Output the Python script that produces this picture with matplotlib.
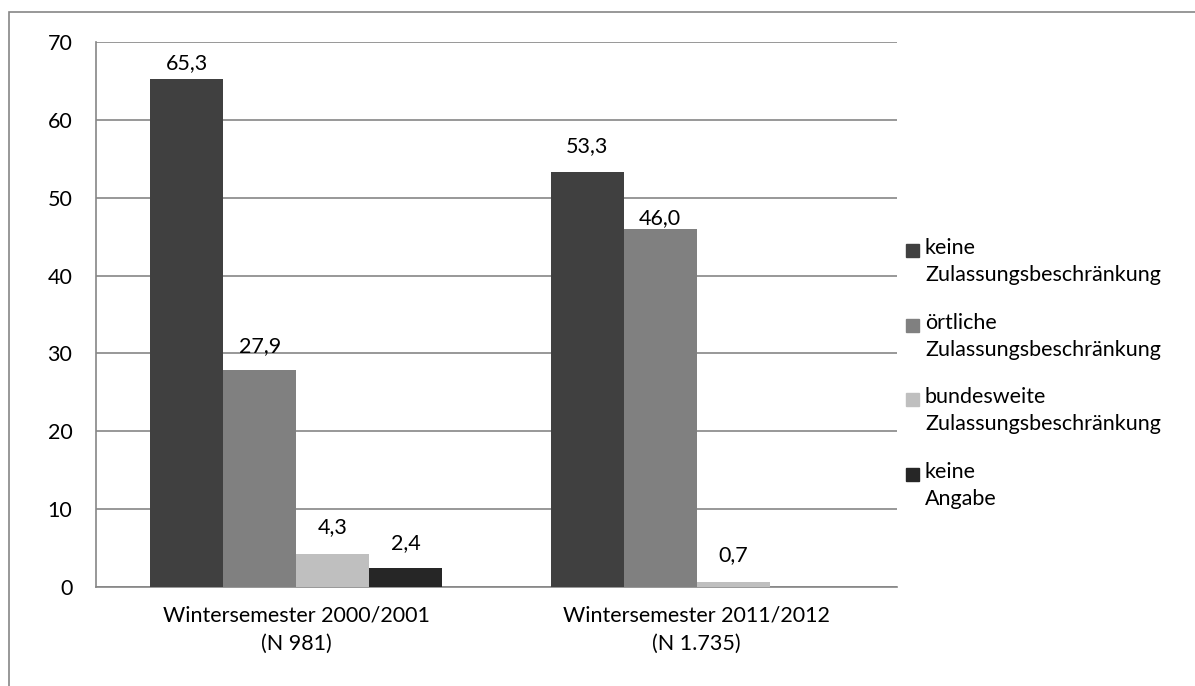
import numpy as np
import matplotlib.pyplot as plt
from matplotlib.patches import Rectangle

plt.rcParams['font.family'] = ['Lato', 'DejaVu Sans']

# Daten
semester = ["Wintersemester 2000/2001\n(N 981)", "Wintersemester 2011/2012\n(N 1.735)"]
serien = ["keine\nZulassungsbeschränkung", "örtliche\nZulassungsbeschränkung",
          "bundesweite\nZulassungsbeschränkung", "keine\nAngabe"]
keine_zb = [65.3, 53.3]
oertlich = [27.9, 46.0]
bundesweit = [4.3, 0.7]
keine_angabe = [2.4, np.nan]
farben = ["#404040", "#808080", "#bfbfbf", "#262626"]
yticks = [0, 10, 20, 30, 40, 50, 60, 70]

werte = [keine_zb, oertlich, bundesweit, keine_angabe]
# Abstand der Beschriftung über dem Balken (Pixel), wie im Original
abstand = [[15, 26], [24, 11], [26, 26], [25, 25]]
fs = 15.5
W, H = 1195, 686

fig = plt.figure(figsize=(W / 100, H / 100), dpi=100)
ax = fig.add_axes([96/W, 1 - 587/H, (897-96)/W, (587-42)/H])
px = 70 / (587 - 42)  # Dateneinheiten pro Pixel

# Rahmen um das ganze Bild
fig.patches.append(Rectangle((9/W, -0.01), 1.2, 1 - 12/H + 0.01, transform=fig.transFigure,
                             fill=False, edgecolor="#868686", linewidth=1.2))

x = np.arange(len(semester))
breite = 0.182
for i, (w, f) in enumerate(zip(werte, farben)):
    pos = x + (i - 1.5) * breite
    ax.bar(pos, w, width=breite, color=f, zorder=3)
    for p, v, a in zip(pos, w, abstand[i]):
        if not np.isnan(v):
            ax.text(p, v + a * px, f"{v:.1f}".replace('.', ','), ha='center', va='center', fontsize=fs)

ax.set_xlim(-0.5, 1.5)
ax.set_ylim(0, 70)
ax.set_yticks(yticks)
ax.set_xticks(x)
ax.set_xticklabels(semester, fontsize=fs, linespacing=1.55)
ax.tick_params(axis='y', length=0, pad=17, labelsize=fs)
ax.tick_params(axis='x', length=0, pad=13)
ax.grid(axis='y', color="#868686", linewidth=1.2, zorder=0)
for s in ['top', 'right']:
    ax.spines[s].set_visible(False)
for s in ['left', 'bottom']:
    ax.spines[s].set_color("#868686")
    ax.spines[s].set_linewidth(1.2)

# Legende
for i, (name, f) in enumerate(zip(serien, farben)):
    yc = 250 + i * 74.5
    fig.patches.append(Rectangle((906/W, 1 - (yc + 7)/H), 13/W, 13/H,
                                 transform=fig.transFigure, color=f))
    fig.text(925/W, 1 - (yc - 12)/H, name, fontsize=fs, va='top', linespacing=1.45)

fig.savefig("out.png")
